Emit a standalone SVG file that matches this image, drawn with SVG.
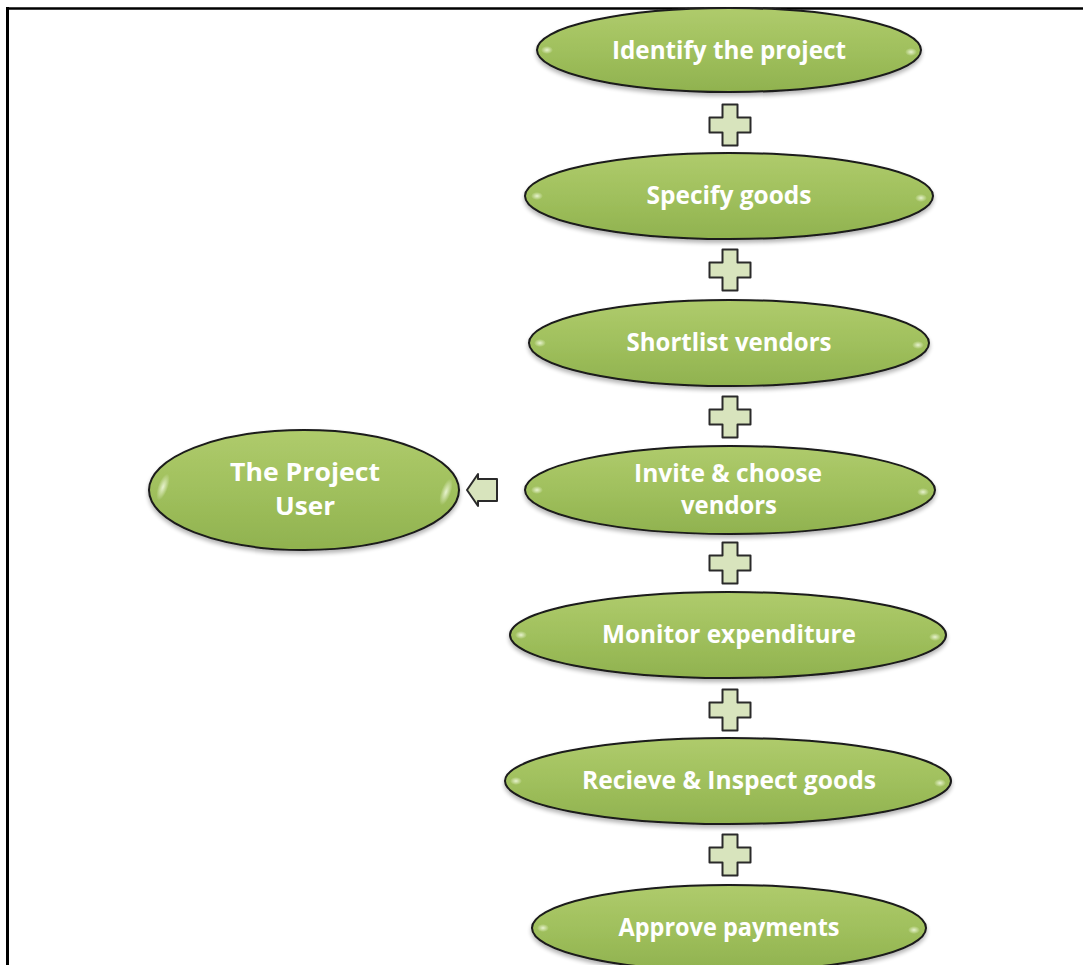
<svg xmlns="http://www.w3.org/2000/svg" width="1083" height="965" viewBox="0 0 1083 965">
  <defs>
    <linearGradient id="gFill" x1="0" y1="0" x2="0" y2="1">
      <stop offset="0" stop-color="#afcb6c"/>
      <stop offset="0.5" stop-color="#a0c05d"/>
      <stop offset="1" stop-color="#90b24f"/>
    </linearGradient>
    <radialGradient id="gGlow" cx="0.5" cy="0.5" r="0.5">
      <stop offset="0" stop-color="#f4fbe2" stop-opacity="0.85"/>
      <stop offset="1" stop-color="#f4fbe2" stop-opacity="0"/>
    </radialGradient>
    <filter id="shadow" x="-10%" y="-20%" width="120%" height="150%">
      <feGaussianBlur in="SourceAlpha" stdDeviation="2"/>
      <feOffset dx="0" dy="3" result="b"/>
      <feComponentTransfer><feFuncA type="linear" slope="0.3"/></feComponentTransfer>
      <feMerge><feMergeNode/><feMergeNode in="SourceGraphic"/></feMerge>
    </filter>
    <path id="plus" d="M-7.5,-20.5 h15 v13 h13 v15 h-13 v13 h-15 v-13 h-13 v-15 h13 z"/>
  </defs>
  <style>
    .node { fill: url(#gFill); stroke: #1a1a1a; stroke-width: 2; filter: url(#shadow); }
    .glow { fill: url(#gGlow); }
    .label { font-family: "Open Sans", "Liberation Sans", sans-serif; font-weight: 700; font-size: 24.5px; fill: #ffffff; text-anchor: middle; }
    .link { fill: #d8e4bd; stroke: #2a2a2a; stroke-width: 2; stroke-linejoin: round; }
    .frame { stroke: #000; fill: none; }
  </style>

  <rect width="1083" height="965" fill="#ffffff"/>

  <!-- page frame -->
  <line class="frame" x1="7" y1="8.5" x2="1083" y2="8.5" stroke-width="2.5" stroke="#333"/>
  <line class="frame" x1="7.5" y1="7" x2="7.5" y2="965" stroke-width="3"/>

  <!-- connectors -->
  <g id="connectors">
    <use href="#plus" class="link" x="730" y="125"/>
    <use href="#plus" class="link" x="730" y="270"/>
    <use href="#plus" class="link" x="730" y="417"/>
    <use href="#plus" class="link" x="730" y="563"/>
    <use href="#plus" class="link" x="730" y="710"/>
    <use href="#plus" class="link" x="730" y="855"/>
    <path class="link" d="M467,490 L478,474 L478,479 L497,479 L497,501 L478,501 L478,506 Z"/>
  </g>

  <g id="n1">
    <ellipse class="node" cx="729" cy="50" rx="192" ry="42"/>
    <ellipse class="glow" cx="547" cy="50" rx="6" ry="4"/>
    <ellipse class="glow" cx="911" cy="52" rx="6" ry="4"/>
    <text class="label" x="729" y="59" textLength="234" lengthAdjust="spacingAndGlyphs">Identify the project</text>
  </g>

  <g id="n2">
    <ellipse class="node" cx="729" cy="196" rx="204" ry="43"/>
    <ellipse class="glow" cx="537" cy="196" rx="6" ry="4"/>
    <ellipse class="glow" cx="921" cy="198" rx="6" ry="4"/>
    <text class="label" x="729" y="204" textLength="165" lengthAdjust="spacingAndGlyphs">Specify goods</text>
  </g>

  <g id="n3">
    <ellipse class="node" cx="729" cy="343" rx="200" ry="43"/>
    <ellipse class="glow" cx="540" cy="343" rx="6" ry="4"/>
    <ellipse class="glow" cx="918" cy="345" rx="6" ry="4"/>
    <text class="label" x="729" y="351" textLength="205" lengthAdjust="spacingAndGlyphs">Shortlist vendors</text>
  </g>

  <g id="n4">
    <ellipse class="node" cx="730" cy="490" rx="205" ry="44"/>
    <ellipse class="glow" cx="537" cy="490" rx="6" ry="4"/>
    <ellipse class="glow" cx="923" cy="492" rx="6" ry="4"/>
    <text class="label" x="728" y="482" textLength="188" lengthAdjust="spacingAndGlyphs">Invite &amp; choose</text>
    <text class="label" x="729" y="514" textLength="96" lengthAdjust="spacingAndGlyphs">vendors</text>
  </g>

  <g id="n5">
    <ellipse class="node" cx="728" cy="635" rx="218" ry="43"/>
    <ellipse class="glow" cx="521" cy="635" rx="6" ry="4"/>
    <ellipse class="glow" cx="935" cy="637" rx="6" ry="4"/>
    <text class="label" x="729" y="643" textLength="254" lengthAdjust="spacingAndGlyphs">Monitor expenditure</text>
  </g>

  <g id="n6">
    <ellipse class="node" cx="728" cy="781" rx="223" ry="43"/>
    <ellipse class="glow" cx="516" cy="781" rx="6" ry="4"/>
    <ellipse class="glow" cx="940" cy="783" rx="6" ry="4"/>
    <text class="label" x="729" y="789" textLength="294" lengthAdjust="spacingAndGlyphs">Recieve &amp; Inspect goods</text>
  </g>

  <g id="n7">
    <ellipse class="node" cx="729" cy="928" rx="197" ry="43"/>
    <ellipse class="glow" cx="543" cy="928" rx="6" ry="4"/>
    <ellipse class="glow" cx="914" cy="930" rx="6" ry="4"/>
    <text class="label" x="729" y="936" textLength="221" lengthAdjust="spacingAndGlyphs">Approve payments</text>
  </g>

  <g id="user">
    <ellipse class="node" cx="304" cy="490" rx="155" ry="60"/>
    <ellipse class="glow" cx="163" cy="487" rx="5" ry="14" transform="rotate(20 163 487)"/>
    <ellipse class="glow" cx="446" cy="492" rx="5" ry="14" transform="rotate(20 446 492)"/>
    <text class="label" x="305" y="481" font-size="26" textLength="150" lengthAdjust="spacingAndGlyphs">The Project</text>
    <text class="label" x="305" y="515" font-size="26" textLength="60" lengthAdjust="spacingAndGlyphs">User</text>
  </g>
</svg>
